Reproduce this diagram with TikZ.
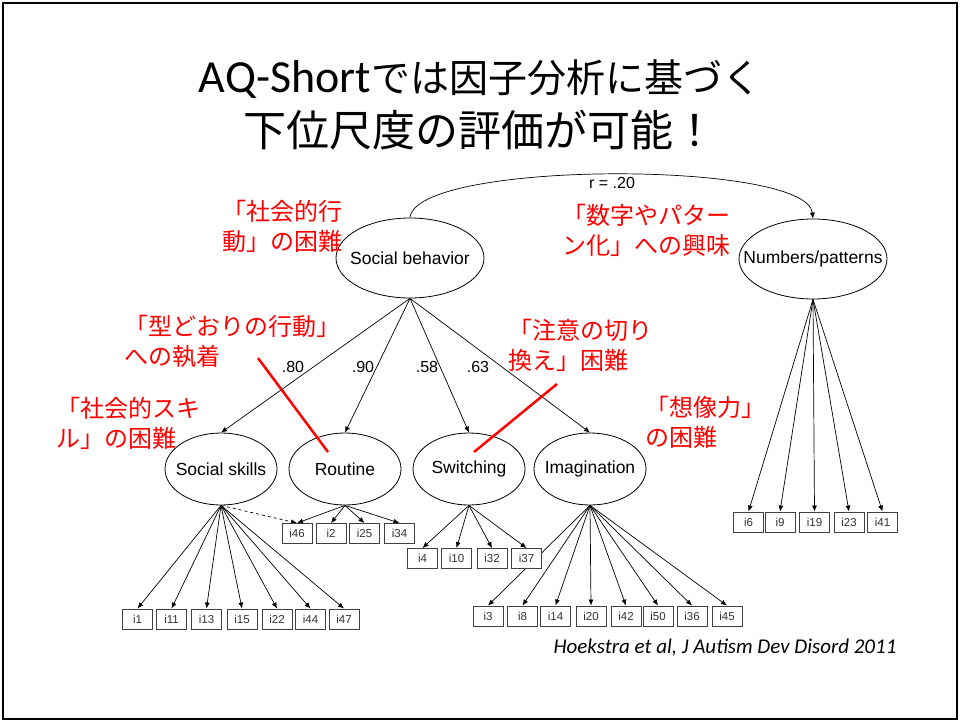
\documentclass[tikz,border=0pt]{standalone}
\usepackage{fontspec}
\setmainfont{Liberation Sans}
\newfontfamily\jpfont{Noto Sans CJK JP}
\newfontfamily\calfont{Carlito}
\usetikzlibrary{shapes.geometric,arrows.meta,backgrounds}
\newcommand\zw[1]{\makebox[0pt]{#1}}
\begin{document}
\begin{tikzpicture}[x=1pt,y=-1pt,
  factor/.style={ellipse,draw,line width=0.8pt,fill=white,minimum width=112pt,minimum height=72pt,inner sep=0pt,font=\fontsize{17.5}{20}\selectfont},
  bigfactor/.style={factor,minimum width=148pt,minimum height=80pt},
  item/.style={draw=black!75,line width=0.9pt,fill=white,minimum width=30pt,minimum height=20pt,inner sep=0pt,font=\fontsize{11.5}{13}\selectfont,text=black!80},
  arr/.style={-{Latex[length=6pt,width=5pt]},line width=0.7pt},
  darr/.style={arr,dashed},
  coef/.style={font=\fontsize{16}{18}\selectfont,inner sep=0pt},
  redlbl/.style={text=red,font=\jpfont\fontsize{24}{30}\selectfont,align=left,anchor=north west,inner sep=0pt},
  redline/.style={red,line width=2.5pt},
  title/.style={inner sep=0pt}]
\useasboundingbox (0,0) rectangle (960,722);
\draw[line width=2pt] (3,3) rectangle (957,719);

% title
\node[title] (title1) at (480,79) {{\calfont\fontsize{46}{50}\selectfont AQ-Short}{\jpfont\fontsize{39}{50}\selectfont では因子分析に基づく}};
\node[title] (title2) at (480,130) {\jpfont\fontsize{43}{50}\selectfont 下位尺度の評価が可能！};

% factors
\node[bigfactor] (sb) at (410,258) {\zw{Social behavior}};
\node[bigfactor] (np) at (813,259) {\zw{Numbers/patterns}};
\node[factor] (ss) at (221,469) {\zw{Social skills}};
\node[factor] (rt) at (345,469) {\zw{Routine}};
\node[factor] (sw) at (469,469) {\zw{Switching}};
\node[factor] (im) at (590,469) {\zw{Imagination}};

% coefficients
\node[coef] (r20) at (612,183) {r = .20};
\node[coef] (c80) at (293,367) {.80};
\node[coef] (c90) at (363,367) {.90};
\node[coef] (c58) at (427,367) {.58};
\node[coef] (c63) at (478,367) {.63};

% items social skills
\foreach \n/\x in {1/137.5,11/171.5,13/206.5,15/242,22/277,44/310.5,47/344}
  \node[item] (i\n) at (\x,619) {i\n};
% routine
\foreach \n/\x in {46/297,2/331,25/364.5,34/399.5}
  \node[item] (i\n) at (\x,533.5) {i\n};
% switching
\foreach \n/\x in {4/422.5,10/456.5,32/492,37/526.5}
  \node[item] (i\n) at (\x,558.5) {i\n};
% imagination
\foreach \n/\x in {3/488,8/522.5,14/555.5,20/591,42/626,50/658,36/692,45/727}
  \node[item] (i\n) at (\x,616) {i\n};
% numbers
\foreach \n/\x in {6/748.5,9/780,19/814.5,23/849,41/882.5}
  \node[item] (i\n) at (\x,522) {i\n};

\begin{scope}[on background layer]
  \draw[arr] (sb.north) .. controls (416,160) and (807,160) .. (np.north);
  \foreach \t in {ss,rt,sw,im} \draw[arr] (sb.south) -- (\t.north);
  \foreach \n in {1,11,13,15,22,44,47} \draw[arr] (ss.south) -- (i\n.north);
  \draw[darr] (ss.south) -- (i46.north);
  \foreach \n in {46,2,25,34} \draw[arr] (rt.south) -- (i\n.north);
  \foreach \n in {4,10,32,37} \draw[arr] (sw.south) -- (i\n.north);
  \foreach \n in {3,8,14,20,42,50,36,45} \draw[arr] (im.south) -- (i\n.north);
  \foreach \n in {6,9,19,23,41} \draw[arr] (np.south) -- (i\n.north);
\end{scope}

% red labels
\node[redlbl] (l1) at (222,200) {「社会的行\\動」の困難};
\node[redlbl] (l2) at (124,315) {「型どおりの行動」\\への執着};
\node[redlbl] (l3) at (56,397) {「社会的スキ\\ル」の困難};
\node[redlbl] (l4) at (562,204) {「数字やパター\\ン化」への興味};
\node[redlbl] (l5) at (508,319) {「注意の切り\\換え」困難};
\node[redlbl] (l6) at (645,396) {「想像力」\\の困難};

\coordinate (a1) at (258,358);
\coordinate (a2) at (328,452);
\coordinate (b1) at (557,384);
\coordinate (b2) at (474,452);
\draw[redline] (a1) -- (a2);
\draw[redline] (b1) -- (b2);

\node[font=\calfont\itshape\fontsize{21}{24}\selectfont,inner sep=0pt] (cite) at (725,648) {Hoekstra et al, J Autism Dev Disord 2011};
\end{tikzpicture}
\end{document}
